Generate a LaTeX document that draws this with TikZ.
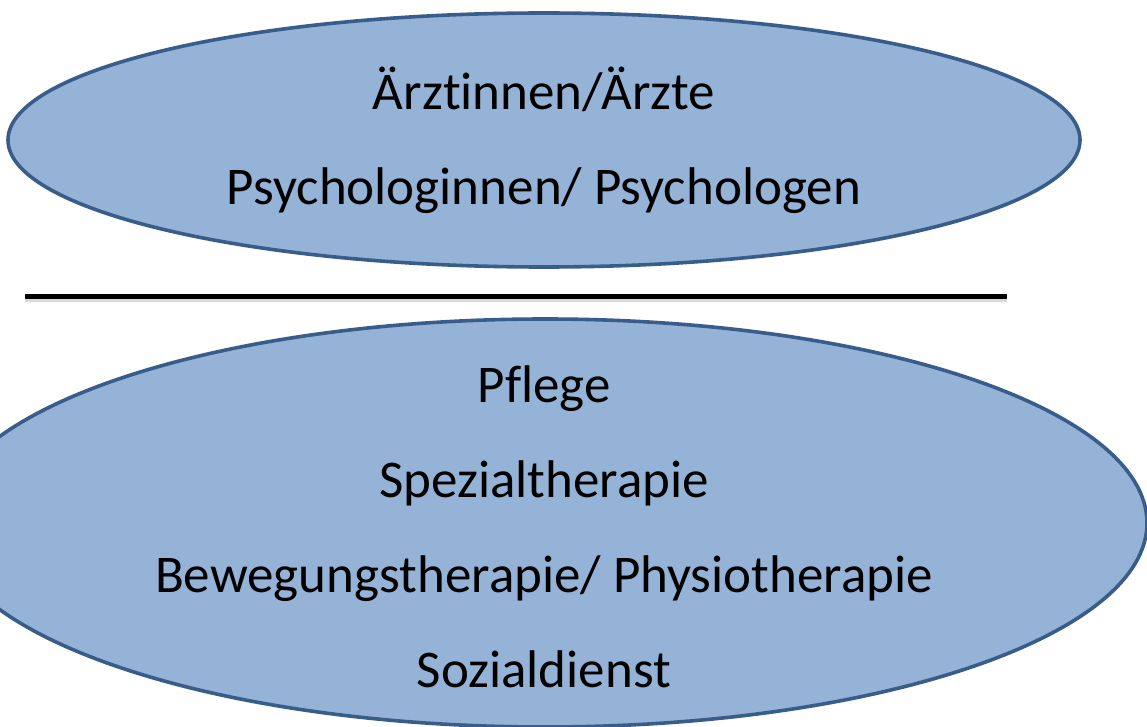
\documentclass[tikz,border=0pt]{standalone}
\usepackage{fontspec}
\setmainfont{Carlito}
\usepackage{tikz}
\usetikzlibrary{shapes}
\usetikzlibrary{positioning}

\definecolor{groupfill}{RGB}{149,179,215}
\definecolor{groupdraw}{RGB}{56,93,138}
\newcommand{\nolig}{\kern0pt\relax}

\begin{document}
\begin{tikzpicture}[x=1pt,y=-1pt,node distance=95pt]
\tikzstyle{group}=[ellipse,draw=groupdraw,fill=groupfill,line width=3.6pt,
inner sep=0pt]
\tikzstyle{job}=[inner sep=0pt,text height=38pt,text depth=12pt,
font=\fontsize{53}{63}\selectfont]
\useasboundingbox (0,0) rectangle (1147,727);
\node[group,minimum width=1072pt,minimum height=254pt] (upper) at (544,140) {};
\node[group,minimum width=1204pt,minimum height=408pt] (lower) at (545,523) {};
\node[job] (aerzte) at (544,97) {Ärzt\nolig innen/Ärzte};
\node[job] (psych) [below of=aerzte] {Psychologinnen/ Psychologen};
\node[job] (pflege) at (544,389) {Pf\nolig lege};
\node[job] (spezial) [below of=pflege] {Spezialtherapie};
\node[job] (bewegung) [below of=spezial] {Bewegungstherapie/ Physiotherapie};
\node[job] (sozial) [below of=bewegung] {Sozialdienst};
\coordinate (sepL) at (25,296);
\coordinate (sepR) at (1007,296);
\draw [line width=5pt,black!25,opacity=0.6] ([yshift=-3pt]sepL) -- ([yshift=-3pt]sepR);
\draw [line width=5pt] (sepL) -- (sepR);
\end{tikzpicture}
\end{document}
